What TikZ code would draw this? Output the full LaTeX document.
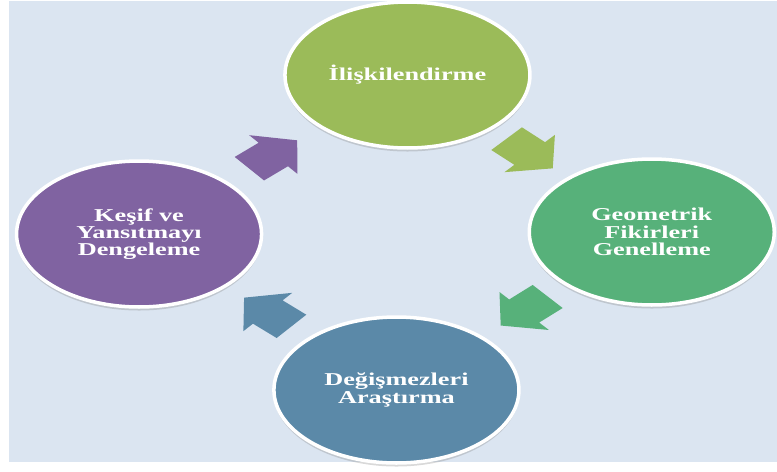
\documentclass[tikz,border=0pt]{standalone}
\usepackage{fontspec}
\setmainfont{Liberation Serif}
\usepackage{tikz}
\usetikzlibrary{shapes.geometric,shadows,calc}
\definecolor{panelbg}{HTML}{DBE5F1}
\definecolor{cOlive}{HTML}{9BBB59}
\definecolor{cGreen}{HTML}{57B17A}
\definecolor{cBlue}{HTML}{5B89A8}
\definecolor{cPurple}{HTML}{8063A1}

\begin{document}
\begin{tikzpicture}[x=0.02cm,y=-0.02cm,xscale=1.45,stage/.style={shape=ellipse,draw=white,line width=2pt,transform shape,minimum width=3.38cm,minimum height=2.92cm,inner sep=0pt,align=center,text=white,font=\fontsize{10.3}{9.8}\selectfont\bfseries,drop shadow={opacity=0.3,shadow xshift=0pt,shadow yshift=-2pt}},stageOlive/.style={stage,fill=cOlive},stageGreen/.style={stage,fill=cGreen},stageBlue/.style={stage,fill=cBlue},stagePurple/.style={stage,fill=cPurple},turn/.style={draw=none}]
\def\al{21.75};
\def\bw{15.5};
\def\hw{25.5};

\useasboundingbox (0,0) rectangle (535.86,471);
\fill[panelbg] (6.2,1) rectangle (535.86,462);

\node[stageOlive] (T) at (281,75) {İlişkilendirme};
\node[stageGreen] (R) at (449.5,232) {Geometrik\\Fikirleri\\Genelleme};
\node[stageBlue] (B) at (273.4,390) {Değişmezleri\\Araştırma};
\node[stagePurple] (L) at (95.9,234) {Keşif ve\\Yansıtmayı\\Dengeleme};

\fill[turn,cOlive,shift={($(T)!0.5!(R)$)},rotate=-43] (-\al,-\bw) -- (0,-\bw) -- (0,-\hw) -- (\al,0) -- (0,\hw) -- (0,\bw) -- (-\al,\bw) -- cycle;
\fill[turn,cGreen,shift={($(R)!0.5!(B)$)},rotate=-138.1] (-\al,-\bw) -- (0,-\bw) -- (0,-\hw) -- (\al,0) -- (0,\hw) -- (0,\bw) -- (-\al,\bw) -- cycle;
\fill[turn,cBlue,shift={($(B)!0.5!(L)$)},rotate=138.7] (-\al,-\bw) -- (0,-\bw) -- (0,-\hw) -- (\al,0) -- (0,\hw) -- (0,\bw) -- (-\al,\bw) -- cycle;
\fill[turn,cPurple,shift={($(L)!0.5!(T)$)},rotate=40.7] (-\al,-\bw) -- (0,-\bw) -- (0,-\hw) -- (\al,0) -- (0,\hw) -- (0,\bw) -- (-\al,\bw) -- cycle;
\end{tikzpicture}
\end{document}
